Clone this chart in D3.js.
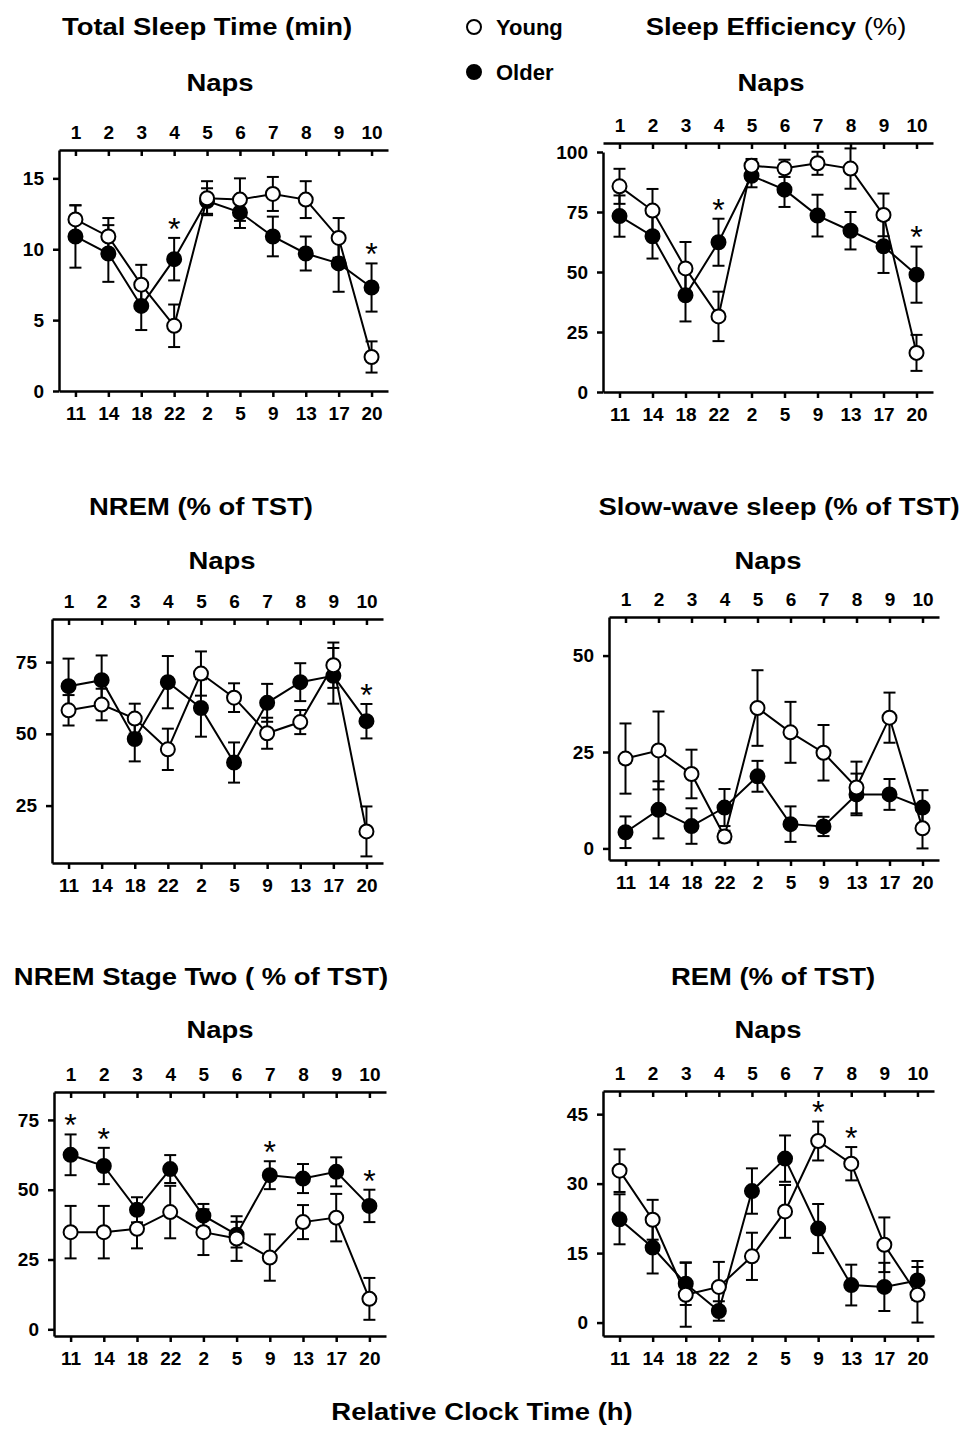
<!DOCTYPE html>
<html>
<head>
<meta charset="utf-8">
<script src="https://cdn.jsdelivr.net/npm/d3@7"></script>
<style>
  body { margin: 0; background: #fff; }
  text { font-family: "Liberation Sans", Arial, sans-serif; font-weight: bold; fill: #000; }
</style>
</head>
<body>
<div id="chart"></div>
<script>
const width = 965;
const height = 1455;

// nap number on the top axis, clock hour on the bottom axis
const naps = [1, 2, 3, 4, 5, 6, 7, 8, 9, 10];
const clockHours = ["11", "14", "18", "22", "2", "5", "9", "13", "17", "20"];

// total sleep time (min)
const tstYoung    = [12.1, 10.9, 7.5, 4.6, 13.6, 13.5, 13.9, 13.5, 10.8, 2.4];
const tstYoungErr = [1.0, 1.3, 1.4, 1.5, 1.2, 1.5, 1.2, 1.3, 1.4, 1.1];
const tstOlder    = [10.9, 9.7, 6.0, 9.3, 13.4, 12.6, 10.9, 9.7, 9.0, 7.3];
const tstOlderErr = [2.2, 2.0, 1.7, 1.5, 0.9, 1.1, 1.4, 1.2, 2.0, 1.7];
const tstSig = [4, 10];

// sleep efficiency (%)
const seYoung    = [85.7, 75.6, 51.5, 31.5, 94.3, 93.2, 95.3, 93.1, 73.8, 16.3];
const seYoungErr = [7.3, 9.0, 11.0, 10.3, 2.8, 3.6, 4.8, 8.4, 8.9, 7.5];
const seOlder    = [73.3, 64.9, 40.3, 62.4, 90.1, 84.3, 73.5, 67.2, 60.7, 48.9];
const seOlderErr = [8.6, 9.3, 10.9, 9.8, 4.8, 7.2, 8.7, 7.8, 11.1, 11.7];
const seSig = [4, 10];

// NREM (% of TST)
const nremYoung    = [58.2, 60.2, 55.3, 44.6, 71.0, 62.6, 50.2, 54.1, 73.9, 16.0];
const nremYoungErr = [5.3, 5.5, 5.2, 7.2, 7.7, 5.0, 5.4, 4.2, 7.9, 8.7];
const nremOlder    = [66.6, 68.7, 48.2, 68.0, 59.0, 40.0, 60.8, 68.0, 70.2, 54.4];
const nremOlderErr = [9.6, 8.6, 7.8, 9.1, 10.0, 7.0, 6.6, 6.6, 9.7, 6.0];
const nremSig = [10];

// slow-wave sleep (% of TST)
const swsYoung    = [23.3, 25.4, 19.3, 3.1, 36.4, 30.1, 24.8, 15.8, 33.9, 5.2];
const swsYoungErr = [9.1, 10.1, 6.3, 1.5, 9.8, 7.9, 7.2, 6.7, 6.5, 5.2];
const swsOlder    = [4.2, 10.0, 5.8, 10.6, 18.7, 6.3, 5.7, 14.0, 14.0, 10.6];
const swsOlderErr = [4.1, 7.4, 4.6, 4.8, 4.0, 4.6, 2.5, 5.4, 4.0, 4.5];
const swsSig = [];

// NREM stage two (% of TST)
const st2Young    = [34.8, 34.8, 36.0, 42.0, 34.8, 32.5, 25.7, 38.4, 40.0, 10.9];
const st2YoungErr = [9.4, 9.4, 7.0, 9.4, 8.2, 8.0, 8.3, 6.1, 8.5, 7.5];
const st2Older    = [62.5, 58.5, 42.8, 57.4, 40.7, 33.9, 55.2, 54.0, 56.4, 44.2];
const st2OlderErr = [7.3, 6.5, 4.5, 5.0, 4.2, 4.6, 5.0, 5.2, 5.2, 5.8];
const st2Sig = [1, 2, 7, 10];

// REM (% of TST)
const remYoung    = [32.8, 22.2, 6.0, 7.7, 14.3, 24.0, 39.2, 34.3, 16.8, 6.0];
const remYoungErr = [4.6, 4.3, 6.9, 5.4, 5.1, 5.7, 4.2, 3.6, 5.9, 6.0];
const remOlder    = [22.3, 16.2, 8.4, 2.5, 28.4, 35.4, 20.3, 8.1, 7.7, 9.1];
const remOlderErr = [5.4, 5.6, 4.6, 2.1, 4.9, 5.0, 5.3, 4.4, 5.2, 4.2];
const remSig = [7, 8];

const svg = d3.select("#chart").append("svg")
  .attr("width", width)
  .attr("height", height);

// layout of the six panels (pixel boxes, not data)
const panels = [
  { title: "Total Sleep Time (min)", tx: 207, ty: 35, nx: 220, ny: 91,
    left: 59, top: 150, yTop: 150, bottom: 391, w: 329,
    domain: [0, 17], ticks: [0, 5, 10, 15],
    young: tstYoung, youngErr: tstYoungErr, older: tstOlder, olderErr: tstOlderErr, sig: tstSig },
  { title: "Sleep Efficiency", suffix: " (%)", tx: 776, ty: 35, nx: 771, ny: 91,
    left: 603, top: 143, yTop: 152, bottom: 392, w: 330,
    domain: [0, 100], ticks: [0, 25, 50, 75, 100],
    young: seYoung, youngErr: seYoungErr, older: seOlder, olderErr: seOlderErr, sig: seSig },
  { title: "NREM (% of TST)", tx: 201, ty: 515, nx: 222, ny: 569,
    left: 52, top: 619, yTop: 619, bottom: 863, w: 331,
    domain: [5, 90], ticks: [25, 50, 75],
    young: nremYoung, youngErr: nremYoungErr, older: nremOlder, olderErr: nremOlderErr, sig: nremSig },
  { title: "Slow-wave sleep (% of TST)", tx: 779, ty: 515, nx: 768, ny: 569,
    left: 609, top: 617, yTop: 617, bottom: 860, w: 330,
    domain: [-3, 60], ticks: [0, 25, 50],
    young: swsYoung, youngErr: swsYoungErr, older: swsOlder, olderErr: swsOlderErr, sig: swsSig },
  { title: "NREM Stage Two ( % of TST)", tx: 201, ty: 985, nx: 220, ny: 1038,
    left: 54, top: 1092, yTop: 1092, bottom: 1336, w: 332,
    domain: [-2.4, 85], ticks: [0, 25, 50, 75],
    young: st2Young, youngErr: st2YoungErr, older: st2Older, olderErr: st2OlderErr, sig: st2Sig },
  { title: "REM (% of TST)", tx: 773, ty: 985, nx: 768, ny: 1038,
    left: 603, top: 1091, yTop: 1091, bottom: 1336, w: 331,
    domain: [-2.9, 50], ticks: [0, 15, 30, 45],
    young: remYoung, youngErr: remYoungErr, older: remOlder, olderErr: remOlderErr, sig: remSig }
];

const titleSize = 24.5;
const stretch = 1.12;   // the figure's lettering is a bit wider than Arial
const tickSize = 19;
const markerR = 7;

function styleAxis(sel) {
  sel.attr("font-size", null).attr("font-family", null);
  sel.select(".domain").attr("stroke-width", 2.5).attr("stroke", "#000");
  sel.selectAll(".tick line").attr("stroke-width", 2.5).attr("stroke", "#000");
  sel.selectAll(".tick text").style("font-size", tickSize + "px").attr("fill", "#000");
}

function wideText(x, y, size) {
  return svg.append("text")
    .attr("transform", "translate(" + x + "," + y + ") scale(" + stretch + ",1)")
    .attr("text-anchor", "middle")
    .style("font-size", size + "px");
}

function drawPanel(p) {
  const g = svg.append("g");
  const x = d3.scalePoint().domain(naps).range([p.left, p.left + p.w]).padding(0.5);
  const y = d3.scaleLinear().domain(p.domain).range([p.bottom, p.yTop]);

  // titles
  const t = wideText(p.tx, p.ty, titleSize);
  t.append("tspan").text(p.title);
  if (p.suffix) t.append("tspan").style("font-weight", "normal").text(p.suffix);
  wideText(p.nx, p.ny, titleSize).text("Naps");

  // axes
  g.append("g").attr("transform", "translate(0," + p.top + ")")
    .call(d3.axisTop(x).tickSizeInner(-6).tickSizeOuter(0).tickPadding(11))
    .call(styleAxis);
  g.append("g").attr("transform", "translate(0," + p.bottom + ")")
    .call(d3.axisBottom(x).tickSizeInner(6).tickSizeOuter(0).tickPadding(10)
      .tickFormat((d, i) => clockHours[i]))
    .call(styleAxis);
  g.append("g").attr("transform", "translate(" + p.left + ",0)")
    .call(d3.axisLeft(y).tickValues(p.ticks).tickSizeInner(6).tickSizeOuter(0).tickPadding(9))
    .call(styleAxis);

  const line = d3.line().x((d, i) => x(naps[i])).y(d => y(d));

  function series(vals, errs, filled) {
    const s = g.append("g");
    const bars = s.selectAll("g.err").data(vals).enter().append("g").attr("class", "err")
      .attr("stroke", "#000").attr("stroke-width", 2);
    bars.append("line")
      .attr("x1", (d, i) => x(naps[i])).attr("x2", (d, i) => x(naps[i]))
      .attr("y1", (d, i) => y(d - errs[i])).attr("y2", (d, i) => y(d + errs[i]));
    bars.append("line")
      .attr("x1", (d, i) => x(naps[i]) - 6).attr("x2", (d, i) => x(naps[i]) + 6)
      .attr("y1", (d, i) => y(d + errs[i])).attr("y2", (d, i) => y(d + errs[i]));
    bars.append("line")
      .attr("x1", (d, i) => x(naps[i]) - 6).attr("x2", (d, i) => x(naps[i]) + 6)
      .attr("y1", (d, i) => y(d - errs[i])).attr("y2", (d, i) => y(d - errs[i]));
    s.append("path").datum(vals)
      .attr("d", line).attr("fill", "none").attr("stroke", "#000").attr("stroke-width", 2);
    s.selectAll("circle").data(vals).enter().append("circle")
      .attr("cx", (d, i) => x(naps[i])).attr("cy", d => y(d))
      .attr("r", markerR)
      .attr("fill", filled ? "#000" : "#fff")
      .attr("stroke", "#000").attr("stroke-width", 2);
  }

  series(p.older, p.olderErr, true);
  series(p.young, p.youngErr, false);

  // significance stars above the taller error bar
  const starSize = 32;
  g.selectAll("text.star").data(p.sig).enter().append("text")
    .attr("class", "star")
    .attr("text-anchor", "middle")
    .style("font-size", starSize + "px")
    .style("font-weight", "normal")
    .attr("x", d => x(d))
    .attr("y", d => {
      const i = naps.indexOf(d);
      const top = Math.min(y(p.young[i] + p.youngErr[i]), y(p.older[i] + p.olderErr[i]));
      return top - 16 + 0.56 * starSize;
    })
    .text("*");
}

panels.forEach(drawPanel);

// legend
const legend = svg.append("g");
legend.append("circle").attr("cx", 474).attr("cy", 27).attr("r", markerR)
  .attr("fill", "#fff").attr("stroke", "#000").attr("stroke-width", 2);
legend.append("circle").attr("cx", 474).attr("cy", 72).attr("r", markerR)
  .attr("fill", "#000").attr("stroke", "#000").attr("stroke-width", 2);
legend.append("text").attr("x", 496).attr("y", 35).style("font-size", "22px").text("Young");
legend.append("text").attr("x", 496).attr("y", 80).style("font-size", "22px").text("Older");

// shared x title
wideText(482, 1420, titleSize).text("Relative Clock Time (h)");
</script>
</body>
</html>
